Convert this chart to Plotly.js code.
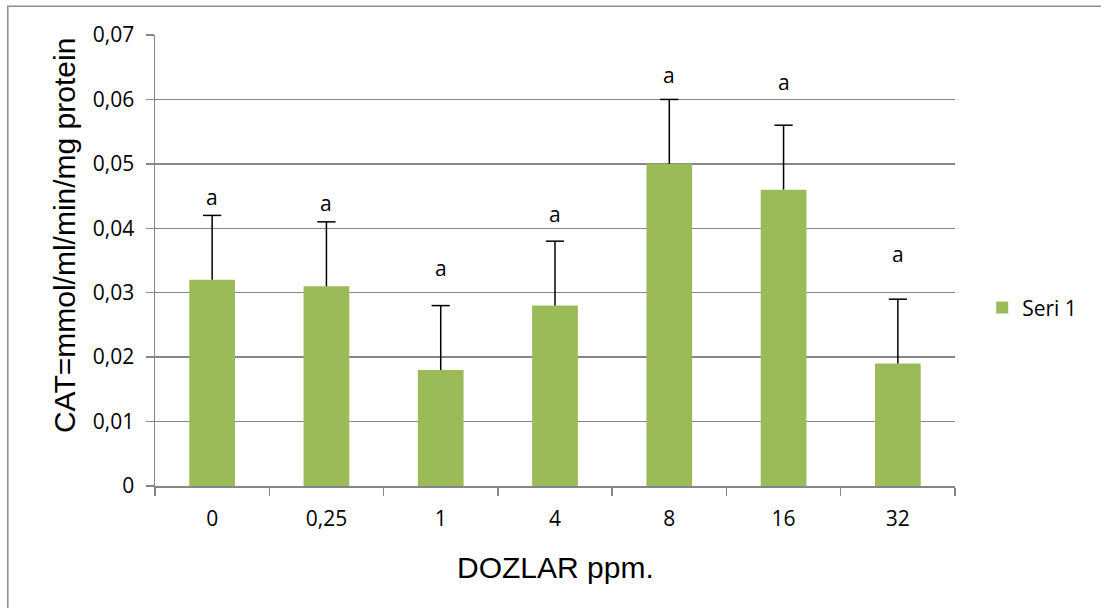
<!DOCTYPE html>
<html>
<head>
<meta charset="utf-8">
<script src="https://cdn.plot.ly/plotly-3.0.1.min.js"></script>
<style>html,body{margin:0;padding:0;background:#fff;}#chart{width:1101px;height:608px;}</style>
</head>
<body>
<div id="chart"></div>
<script>
const categories = ["0", "0,25", "1", "4", "8", "16", "32"];
const values = [0.032, 0.031, 0.018, 0.028, 0.050, 0.046, 0.019];
const errors = [0.010, 0.010, 0.010, 0.010, 0.010, 0.010, 0.010];
const letters = ["a", "a", "a", "a", "a", "a", "a"];
const letterY = [0.0449, 0.0439, 0.0338, 0.0422, 0.0638, 0.0627, 0.0360];
const yTicks = [0, 0.01, 0.02, 0.03, 0.04, 0.05, 0.06, 0.07];
const yTickText = ["0", "0,01", "0,02", "0,03", "0,04", "0,05", "0,06", "0,07"];
const seriesName = "Seri 1";

const tickFont = {family: "Open Sans, Noto Sans, sans-serif", size: 21, color: "#000"};
const titleFont = {family: "Liberation Sans, Arial, sans-serif", size: 30, color: "#000"};

const barTrace = {
  type: "bar",
  x: categories,
  y: values,
  name: seriesName,
  width: 0.4,
  marker: {color: "#9BBB59"},
  error_y: {type: "data", array: errors, arrayminus: errors.map(() => 0), symmetric: false,
            color: "#000", thickness: 1.5, width: 0},
  showlegend: true
};

// top caps of the one-sided error bars
const capTrace = {
  type: "scatter", mode: "markers",
  x: categories,
  y: values.map((v, i) => v + errors[i]),
  marker: {symbol: "line-ew", size: 13, line: {color: "#000", width: 1.5}},
  showlegend: false, hoverinfo: "skip"
};

const annotations = categories.map((c, i) => ({
  x: i, y: letterY[i], xref: "x", yref: "y", text: letters[i], showarrow: false,
  font: tickFont, yanchor: "middle"
}));
annotations.push({
  xref: "paper", yref: "paper", x: -0.114, y: 0.556, textangle: -90,
  text: "CAT=mmol/ml/min/mg protein", showarrow: false, font: titleFont,
  xanchor: "center", yanchor: "middle"
});
annotations.push({
  xref: "paper", yref: "paper", x: 0.501, y: -0.18,
  text: "DOZLAR ppm.", showarrow: false, font: titleFont,
  xanchor: "center", yanchor: "middle"
});

const layout = {
  width: 1101, height: 608,
  margin: {l: 155, r: 146, t: 35, b: 122},
  paper_bgcolor: "#fff", plot_bgcolor: "#fff",
  xaxis: {
    type: "category",
    categoryorder: "array", categoryarray: categories,
    range: [-0.5, 6.5],
    showline: true, linecolor: "#868686", linewidth: 1.5,
    ticks: "outside", ticklen: 8, tickcolor: "#868686", tickwidth: 1.5,
    tickson: "boundaries",
    tickfont: tickFont,
    tickangle: 0,
    ticklabelstandoff: 13,
    showgrid: false
  },
  yaxis: {
    range: [0, 0.07],
    tickvals: yTicks, ticktext: yTickText,
    showline: true, linecolor: "#868686", linewidth: 1.5,
    ticks: "outside", ticklen: 8, tickcolor: "#868686", tickwidth: 1.5,
    tickfont: tickFont,
    ticklabelstandoff: 7,
    showgrid: true, gridcolor: "#868686", gridwidth: 1.5,
    zeroline: false
  },
  legend: {
    x: 1.034, y: 0.395, xanchor: "left", yanchor: "middle",
    font: tickFont, bgcolor: "rgba(0,0,0,0)", itemwidth: 30
  },
  annotations: annotations,
  shapes: [
    {type: "rect", xref: "paper", yref: "paper",
     x0: -0.184, x1: 1.3, y0: -0.4, y1: 1.064,
     line: {color: "#8c8c8c", width: 1.5}, fillcolor: "rgba(0,0,0,0)", layer: "below"}
  ]
};

Plotly.newPlot("chart", [barTrace, capTrace], layout, {displayModeBar: false, staticPlot: true});
</script>
</body>
</html>
